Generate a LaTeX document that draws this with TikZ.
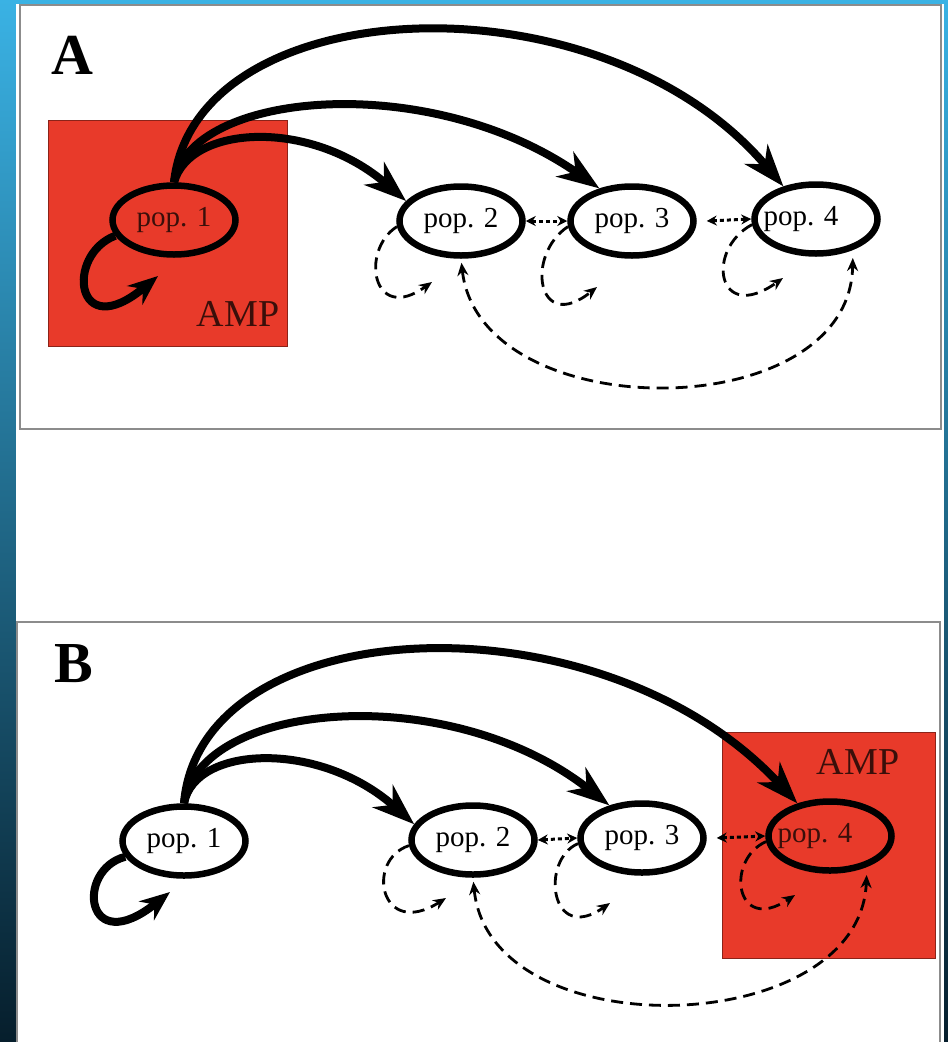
\documentclass[tikz,border=0pt]{standalone}
\usepackage{fontspec}
\setmainfont{Liberation Serif}
\usepackage{tikz}
\usetikzlibrary{shapes.geometric}
\usetikzlibrary{arrows.meta}
\definecolor{ampred}{RGB}{232,58,42}
\definecolor{framegray}{RGB}{140,140,140}
\definecolor{seatop}{RGB}{58,178,228}
\definecolor{seamid}{RGB}{20,128,196}
\definecolor{seabottom}{RGB}{6,30,44}
\newcommand{\popfont}{\fontsize{29}{30}\selectfont}
\newcommand{\ampfont}{\fontsize{38}{40}\selectfont}
\newcommand{\panelfont}{\fontsize{58}{60}\selectfont\bfseries}
% text of pop. 4 sits left of the ellipse centre
\newcommand{\leftpop}[1]{\makebox[0pt]{#1\hspace{30pt}}}
\tikzstyle{pop}=[draw, ellipse, line width=6.5pt, minimum width=123pt, minimum height=69pt, inner sep=0, font=\popfont]
\tikzstyle{amp}=[fill=ampred, draw=ampred!60!black, line width=1pt]
\tikzstyle{onred}=[text=ampred!25!black]
\tikzstyle{panelframe}=[draw=framegray, line width=1.5pt]
\tikzstyle{flow}=[line width=8pt, -{Stealth[length=42pt, width=30pt, inset=13pt]}]
\tikzstyle{selfflow}=[line width=8pt, -{Stealth[length=30pt, width=24pt, inset=10pt]}]
\tikzstyle{drift}=[line width=2.8pt, dash pattern=on 12pt off 7pt, -{Stealth[length=13pt, width=11pt]}]
\tikzstyle{bothdrift}=[drift, {Stealth[length=13pt, width=11pt]}-{Stealth[length=13pt, width=11pt]}, shorten <=4pt, shorten >=8pt]
\tikzstyle{exchange}=[line width=3pt, dash pattern=on 4pt off 3pt, {Stealth[length=10pt, width=10pt]}-{Stealth[length=10pt, width=10pt]}]

\begin{document}
\begin{tikzpicture}[x=1pt, y=-1pt]
    \useasboundingbox (0,0) rectangle (948,1042);
    % slide background
    \shade[top color=seatop, middle color=seamid, bottom color=seabottom] (0,0) rectangle (948,1042);
    \fill[white] (16,4) rectangle (944,1042);

    % panel A
    \draw[panelframe] (20,5) rectangle (941,429);
    \fill[amp] (48,120) rectangle (287,346);
    \node[font=\panelfont] (labelA) at (72,55) {A};
    \node[font=\ampfont, onred] (ampA) at (238,314) {AMP};
    \node[pop, onred] (pop1A) at (174,220) {pop. 1};
    \node[pop] (pop2A) at (461,221) {pop. 2};
    \node[pop] (pop3A) at (632,221) {pop. 3};
    \node[pop] (pop4A) at (816,219) {\leftpop{pop. 4}};
    \coordinate (loop1A) at (158,276);
    \coordinate (drift2A) at (432,282);
    \coordinate (drift3A) at (597,287);
    \coordinate (drift4A) at (783,278);
    \draw[flow] (pop1A.north) .. controls (190,125) and (310,118) .. (pop2A.160);
    \draw[flow] (pop1A.north) .. controls (190,90) and (430,70) .. (pop3A.135);
    \draw[flow] (pop1A.north) .. controls (195,-10) and (600,-30) .. (pop4A.135);
    \draw[selfflow] (pop1A.195) .. controls (65,255) and (75,345) .. (loop1A);
    \draw[drift] (pop2A.185) .. controls (360,250) and (372,325) .. (drift2A);
    \draw[drift] (pop3A.185) .. controls (525,255) and (537,335) .. (drift3A);
    \draw[drift] (pop4A.185) .. controls (705,250) and (717,325) .. (drift4A);
    \draw[exchange] (pop2A.east) -- (pop3A.west);
    \draw[exchange] ([xshift=10pt]pop3A.east) -- (pop4A.west);
    \draw[bothdrift] (pop2A.south) .. controls (480,428) and (850,428) .. (pop4A.-40);

    % panel B
    \draw[panelframe] (17,1050) -- (17,622) -- (940,622) -- (940,1050);
    \fill[amp] (722,732) rectangle (935,958);
    \node[font=\panelfont] (labelB) at (74,664) {B};
    \node[font=\ampfont, onred] (ampB) at (858,762) {AMP};
    \node[pop] (pop1B) at (184,841) {pop. 1};
    \node[pop] (pop2B) at (473,840) {pop. 2};
    \node[pop] (pop3B) at (642,838) {pop. 3};
    \node[pop, onred] (pop4B) at (830,836) {\leftpop{pop. 4}};
    \coordinate (loop1B) at (170,892);
    \coordinate (drift2B) at (446,898);
    \coordinate (drift3B) at (610,903);
    \coordinate (drift4B) at (795,895);
    \draw[flow] (pop1B.north) .. controls (195,745) and (320,740) .. (pop2B.165);
    \draw[flow] (pop1B.north) .. controls (200,700) and (450,680) .. (pop3B.135);
    \draw[flow] (pop1B.north) .. controls (200,610) and (600,590) .. (pop4B.135);
    \draw[selfflow] (pop1B.195) .. controls (75,870) and (85,960) .. (loop1B);
    \draw[drift] (pop2B.185) .. controls (365,860) and (380,940) .. (drift2B);
    \draw[drift] (pop3B.185) .. controls (540,860) and (550,945) .. (drift3B);
    \draw[drift] (pop4B.185) .. controls (725,860) and (735,935) .. (drift4B);
    \draw[exchange] (pop2B.east) -- (pop3B.west);
    \draw[exchange] ([xshift=10pt]pop3B.east) -- (pop4B.west);
    \draw[bothdrift] (pop2B.south) .. controls (490,1050) and (860,1040) .. (pop4B.-40);
\end{tikzpicture}
\end{document}
